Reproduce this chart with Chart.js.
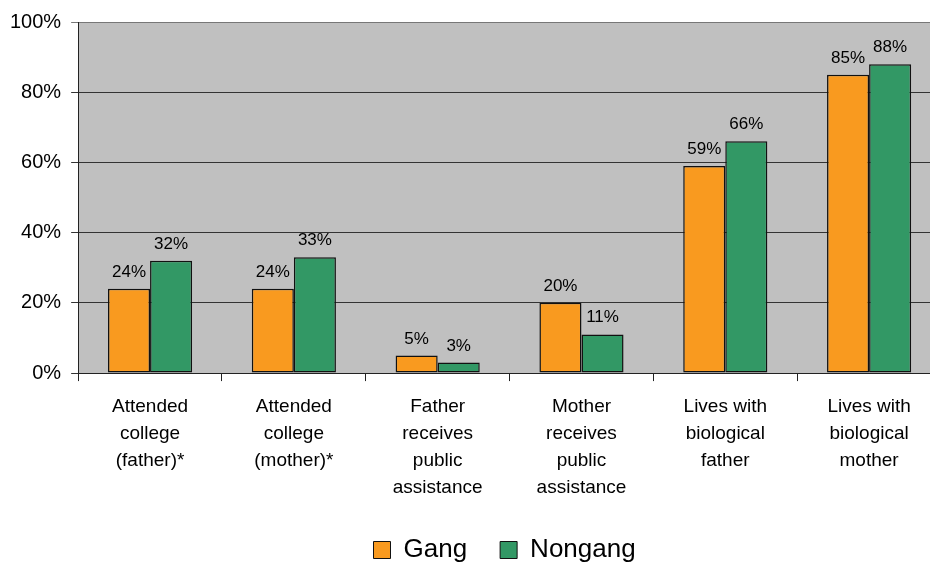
<!DOCTYPE html>
<html>
<head>
<meta charset="utf-8">
<script src="https://cdn.jsdelivr.net/npm/chart.js@4/dist/chart.umd.min.js"></script>
<style>
  html, body { margin: 0; padding: 0; background: #fff; overflow: hidden; }
  #wrap { position: relative; width: 941px; height: 568px; }
</style>
</head>
<body>
<div id="wrap"><canvas id="chart"></canvas></div>
<script>
// Data
const categories = [
  ['Attended', 'college', '(father)*'],
  ['Attended', 'college', '(mother)*'],
  ['Father', 'receives', 'public', 'assistance'],
  ['Mother', 'receives', 'public', 'assistance'],
  ['Lives with', 'biological', 'father'],
  ['Lives with', 'biological', 'mother']
];
const gangValues = [24, 24, 5, 20, 59, 85];
const nongangValues = [32, 33, 3, 11, 66, 88];
const yTicks = [0, 20, 40, 60, 80, 100];

const FONT = "'Liberation Sans', Arial, sans-serif";

// Grey plot background
const plotBackground = {
  id: 'plotBackground',
  beforeDraw(chart) {
    const { ctx, chartArea } = chart;
    ctx.save();
    ctx.fillStyle = '#c0c0c0';
    ctx.fillRect(chartArea.left, chartArea.top, chartArea.right - chartArea.left, chartArea.bottom - chartArea.top);
    ctx.restore();
  }
};

// Value labels above bars
const valueLabels = {
  id: 'valueLabels',
  afterDatasetsDraw(chart) {
    const { ctx } = chart;
    ctx.save();
    ctx.font = '17px ' + FONT;
    ctx.fillStyle = '#000';
    ctx.textAlign = 'center';
    ctx.textBaseline = 'alphabetic';
    chart.data.datasets.forEach((ds, i) => {
      chart.getDatasetMeta(i).data.forEach((bar, j) => {
        ctx.fillText(ds.data[j] + '%', bar.x, bar.y - 12);
      });
    });
    ctx.restore();
  }
};

// Nudge the legend a few pixels left
const legendNudge = {
  id: 'legendNudge',
  afterLayout(chart) {
    chart.legend.left -= 5;
    chart.legend.right -= 5;
  }
};

new Chart(document.getElementById('chart'), {
  type: 'bar',
  data: {
    labels: categories,
    datasets: [
      {
        label: 'Gang',
        data: gangValues,
        backgroundColor: '#f99a1f',
        borderColor: '#111',
        borderWidth: 1.5,
        borderSkipped: false
      },
      {
        label: 'Nongang',
        data: nongangValues,
        backgroundColor: '#329865',
        borderColor: '#111',
        borderWidth: 1.5,
        borderSkipped: false
      }
    ]
  },
  options: {
    responsive: true,
    maintainAspectRatio: false,
    animation: false,
    layout: { padding: { top: 12, right: 0, left: 0, bottom: -5 } },
    datasets: {
      bar: { categoryPercentage: 0.585, barPercentage: 1.0 }
    },
    scales: {
      y: {
        min: 0,
        max: 100,
        afterBuildTicks(axis) {
          axis.ticks = yTicks.map(v => ({ value: v }));
        },
        ticks: {
          callback: v => v + '%',
          color: '#000',
          font: { family: FONT, size: 20 },
          padding: 10
        },
        grid: {
          color: ctx => (ctx.tick && ctx.tick.value === 100 ? '#777' : '#333'),
          lineWidth: 1,
          tickLength: 7
        },
        border: { color: '#222', width: 1 }
      },
      x: {
        afterFit(scale) {
          // let the label block run a little into the legend band
          scale.height -= 9;
        },
        ticks: {
          color: '#000',
          font: { family: FONT, size: 19, lineHeight: 1.42 },
          padding: 12,
          maxRotation: 0,
          autoSkip: false
        },
        grid: { drawOnChartArea: false, drawTicks: true, tickLength: 8, offset: true, color: '#222' },
        border: { color: '#222', width: 1 }
      }
    },
    plugins: {
      legend: {
        position: 'bottom',
        fullSize: false,
        labels: {
          color: '#000',
          font: { family: FONT, size: 26 },
          boxWidth: 17,
          boxHeight: 17,
          padding: 33,
          generateLabels(chart) {
            return chart.data.datasets.map((ds, i) => ({
              text: ds.label,
              fillStyle: ds.backgroundColor,
              strokeStyle: '#111',
              lineWidth: 1,
              datasetIndex: i
            }));
          }
        }
      },
      tooltip: { enabled: false }
    }
  },
  plugins: [plotBackground, valueLabels, legendNudge]
});
</script>
</body>
</html>
